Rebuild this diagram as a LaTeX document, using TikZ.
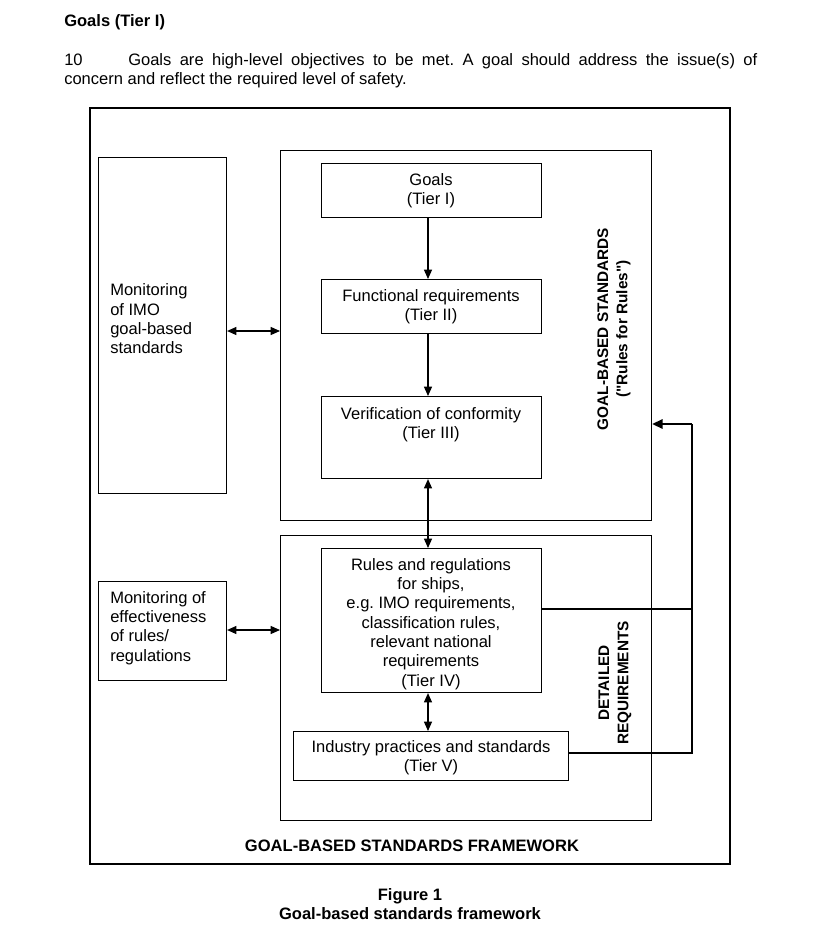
\documentclass[tikz,border=0pt]{standalone}
\usepackage{fontspec}
\setmainfont{Liberation Sans}[Ligatures=TeXOff]
\usetikzlibrary{arrows.meta}
\frenchspacing
\begin{document}
\begin{tikzpicture}[x=0.75pt,y=-0.75pt,
  every node/.style={font=\fontsize{12.4}{14.5}\selectfont\frenchspacing, inner sep=0pt},
  frame/.style={draw, line width=0.8pt},
  tbox/.style={draw, line width=0.8pt, align=center},
  conn/.style={line width=0.9pt, {Triangle[length=7pt,width=6pt]}-{Triangle[length=7pt,width=6pt]}},
  oneway/.style={line width=0.9pt, -{Triangle[length=7pt,width=6pt]}},
  fb/.style={line width=1.6pt},
  bold/.style={font=\fontsize{12.4}{14.5}\selectfont\bfseries},
  rotbold/.style={font=\fontsize{11.5}{14.5}\selectfont\bfseries, rotate=90, align=center}]
\useasboundingbox (0,0) rectangle (820,932);
% heading and paragraph
\node[bold, anchor=base west] (head) at (64,26) {Goals (Tier I)};
\node[anchor=north west, text width=519.75pt, align=justify] (para) at (64,53)
  {\frenchspacing\makebox[48pt][l]{10}Goals are high-level objectives to be met. A goal should address the issue(s) of\linebreak concern and reflect the required level of safety.};
% outer frame
\draw[frame] (90,108) rectangle (730,864);
\node[bold] (fwlabel) at (412,846) {GOAL-BASED STANDARDS FRAMEWORK};
% left boxes
\node[frame, minimum width=96pt, minimum height=252pt, anchor=north west] (mon1) at (98,157) {};
\node[anchor=west, align=left] (mon1t) at (110,319) {Monitoring\\of IMO\\goal-based\\standards};
\node[frame, minimum width=96pt, minimum height=74.25pt, anchor=north west] (mon2) at (98,581) {};
\node[anchor=west, align=left] (mon2t) at (110,628) {Monitoring of\\effectiveness\\of rules/\\regulations};
% GBS box
\node[frame, minimum width=278.25pt, minimum height=277.5pt, anchor=north west] (gbs) at (280,150) {};
\node[rotbold] (gbsl) at (614,329) {GOAL-BASED STANDARDS\\("Rules for Rules")};
% DR box
\node[frame, minimum width=278.25pt, minimum height=213.75pt, anchor=north west] (dr) at (280,535) {};
\node[rotbold] (drl) at (615,683) {DETAILED\\REQUIREMENTS};
% tier boxes
\node[tbox, minimum width=165pt, minimum height=40.5pt, anchor=north west] (g) at (321,163) {};
\node[align=center] (gt) at (431,191) {Goals\\(Tier I)};
\node[tbox, minimum width=165pt, minimum height=40.5pt, anchor=north west] (f) at (321,279) {};
\node[align=center] (ft) at (431,307) {Functional requirements\\(Tier II)};
\node[tbox, minimum width=165pt, minimum height=61.5pt, anchor=north west] (v) at (321,396) {};
\node[align=center] (vt) at (431,425) {Verification of conformity\\(Tier III)};
\node[tbox, minimum width=165pt, minimum height=108pt, anchor=north west] (r) at (321,548) {};
\node[align=center] (rt) at (431,624) {Rules and regulations\\for ships,\\e.g. IMO requirements,\\classification rules,\\relevant national\\requirements\\(Tier IV)};
\node[tbox, minimum width=206.25pt, minimum height=36.75pt, anchor=north west] (ind) at (293,731) {};
\node[align=center] (indt) at (431,758) {Industry practices and standards\\(Tier V)};
% arrows
\draw[oneway] (g.south -| 428,0) -- (f.north -| 428,0);
\draw[oneway] (f.south -| 428,0) -- (v.north -| 428,0);
\draw[conn] (v.south -| 428,0) -- (r.north -| 428,0);
\draw[conn] (r.south -| 428,0) -- (ind.north -| 428,0);
\draw[conn] (mon1.east |- 0,331) -- (gbs.west |- 0,331);
\draw[conn] (mon2.east |- 0,630) -- (dr.west |- 0,630);
% feedback
\coordinate (c1) at (692,609);
\coordinate (c2) at (692,753);
\coordinate (c3) at (692,424);
\draw[fb] (r.east |- c1) -- (c1);
\draw[fb] (ind.east |- c2) -- (c2) -- (c3);
\draw[fb, -{Triangle[length=8pt,width=7pt]}] (c3) -- (gbs.east |- c3);
% caption
\node[bold, align=center] (cap) at (410,904) {Figure 1\\Goal-based standards framework};
\end{tikzpicture}
\end{document}
